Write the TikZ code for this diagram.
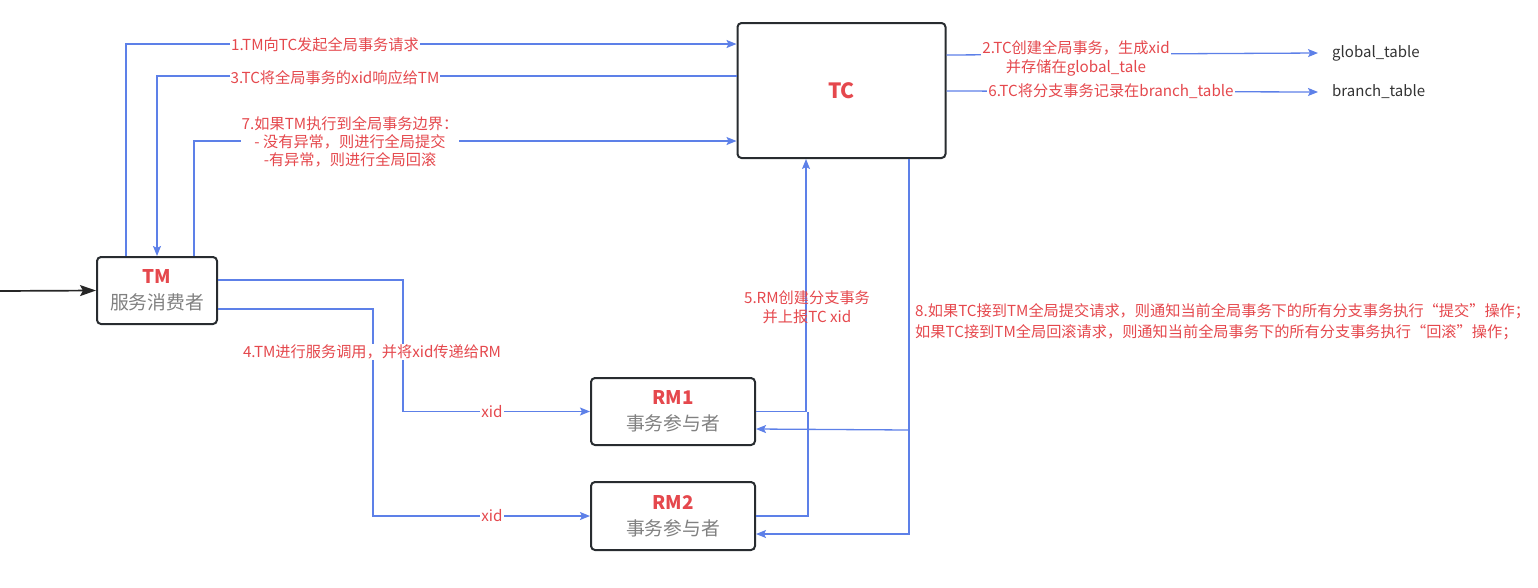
\documentclass[tikz,border=0pt]{standalone}
\usepackage{fontspec}
\setmainfont{Noto Sans CJK SC}
\usetikzlibrary{arrows.meta,calc}
\definecolor{lblue}{RGB}{93,128,232}
\definecolor{lred}{RGB}{229,72,77}
\definecolor{boxline}{RGB}{40,44,48}
\definecolor{subgray}{RGB}{128,128,128}
\definecolor{tblgray}{RGB}{51,51,51}
\begin{document}
\begin{tikzpicture}[x=1pt,y=-1pt,
  box/.style={draw=boxline,line width=2pt,rounded corners=4pt,fill=white,align=center,inner sep=0pt,font=\fontsize{18.8}{26}\selectfont},
  conn/.style={draw=lblue,line width=1.3pt,-{Stealth[length=10pt,width=8pt,inset=2pt]}},
  plainline/.style={draw=lblue,line width=1.3pt},
  lbl/.style={text=lred,font=\fontsize{15.2}{19}\selectfont,align=center,inner sep=1pt},
  lblw/.style={lbl,fill=white},
  tbl/.style={anchor=west,text=tblgray,font=\fontsize{15}{18}\selectfont,inner xsep=14pt,inner ysep=2pt},
]
\useasboundingbox (0,0) rectangle (1538,587);
% nodes
\node[box,minimum width=208pt,minimum height=135pt,font=\fontsize{21}{24}\selectfont\bfseries,text=lred] (TC) at (841.5,90.5) {TC};
\node[box,minimum width=120pt,minimum height=67pt] (TM) at (157,290.5) {{\color{lred}\bfseries TM}\\{\color{subgray}服务消费者}};
\node[box,minimum width=164pt,minimum height=67pt] (RM1) at (673,411.5) {{\color{lred}\bfseries RM1}\\{\color{subgray}事务参与者}};
\node[box,minimum width=164pt,minimum height=68pt] (RM2) at (673,516) {{\color{lred}\bfseries RM2}\\{\color{subgray}事务参与者}};
\node[tbl] (gt) at (1318,53) {global\_table};
\node[tbl] (bt) at (1318,92) {branch\_table};
\coordinate (start) at (0,291);
% entry arrow
\draw[line width=1.7pt,draw=black!85,-{Stealth[length=16pt,width=11pt,inset=3pt]}] (start) -- (TM.west);
% TM <-> TC
\draw[conn] ($(TM.north west)+(30,0)$) |- ($(TC.north west)+(0,22)$);
\draw[conn] ($(TC.north west)+(0,54)$) -| (TM.north);
\draw[conn] ($(TM.north west)+(98,0)$) |- ($(TC.north west)+(0,119)$);
\node[lblw] at (325,45) {1.TM向TC发起全局事务请求};
\node[lblw] at (335,78) {3.TC将全局事务的xid响应给TM};
\node[lblw,font=\fontsize{15.2}{18}\selectfont] at (350,142) {7.如果TM执行到全局事务边界：\\- 没有异常，则进行全局提交\\-有异常，则进行全局回滚};
% TC -> tables
\draw[conn] ($(TC.north east)+(0,33)$) -- (gt.west);
\draw[conn] ($(TC.north east)+(0,69)$) -- (bt.west);
\node[lblw] at (1076,58) {2.TC创建全局事务，生成xid\\并存储在global\_tale};
\node[lblw] at (1111,91) {6.TC将分支事务记录在branch\_table};
% TM -> RMs
\draw[conn] ($(TM.north east)+(0,24)$) -| ($(RM1.west)+(-187,0)$) -- (RM1.west);
\draw[conn] ($(TM.north east)+(0,53)$) -| ($(RM2.west)+(-217,0)$) -- (RM2.west);
\node[lblw] at (492,411.5) {xid};
\node[lblw] at (492,516) {xid};
\node[lblw] at (372,352) {4.TM进行服务调用，并将xid传递给RM};
% RMs -> TC
\draw[conn] (RM1.east) -| ($(TC.south west)+(69.5,0)$);
\draw[plainline] (RM2.east) -| ($(RM1.east)+(52,0)$);
\node[lbl] at (807,307) {5.RM创建分支事务\\并上报TC xid};
% TC -> RMs
\draw[conn] ($(TC.south west)+(172.5,0)$) |- ($(RM2.east)+(0,18)$);
\draw[conn] ($(TC.south west)+(172.5,271)$) -- ($(RM1.east)+(0,17.5)$);
\node[lbl,anchor=west,align=left,font=\fontsize{15.2}{21}\selectfont] at (914,322) {8.如果TC接到TM全局提交请求，则通知当前全局事务下的所有分支事务执行“提交”操作；\\如果TC接到TM全局回滚请求，则通知当前全局事务下的所有分支事务执行“回滚”操作；};
\end{tikzpicture}
\end{document}
